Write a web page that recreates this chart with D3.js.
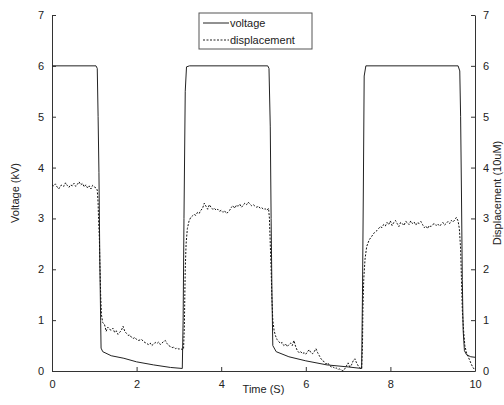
<!DOCTYPE html>
<html>
<head>
<meta charset="utf-8">
<script src="https://cdn.jsdelivr.net/npm/d3@7"></script>
<style>
  body { margin: 0; background: #fff; }
  svg text { font-family: "Liberation Sans", Arial, sans-serif; fill: #222; }
</style>
</head>
<body>
<div id="chart"></div>
<script>
// voltage (kV) vs time (s)
const voltage = [
  [0, 6], [1.04, 6], [1.07, 5.95], [1.09, 5.0], [1.11, 3.9], [1.13, 2.2], [1.15, 1.0], [1.16, 0.45],
  [1.2, 0.38], [1.4, 0.3], [1.7, 0.25], [2.0, 0.18], [2.4, 0.12], [2.8, 0.07], [3.08, 0.05],
  [3.1, 1.0], [3.12, 3.0], [3.15, 5.5], [3.18, 5.98], [3.25, 6], [5.1, 6], [5.13, 5.95],
  [5.16, 4.8], [5.18, 3.0], [5.2, 1.5], [5.22, 0.5], [5.3, 0.38], [5.6, 0.28], [6.0, 0.2],
  [6.5, 0.12], [7.0, 0.08], [7.32, 0.05], [7.34, 1.5], [7.36, 3.5], [7.38, 5.8], [7.42, 6],
  [9.6, 6], [9.64, 5.9], [9.66, 5.0], [9.68, 3.5], [9.7, 1.8], [9.72, 0.8], [9.75, 0.4],
  [9.8, 0.32], [9.9, 0.28], [10, 0.27]
];

// displacement (10uM) vs time (s)
const displacement = [
  [0, 3.66], [0.04, 3.64], [0.08, 3.68], [0.12, 3.62], [0.16, 3.58], [0.2, 3.64], [0.24, 3.66],
  [0.28, 3.63], [0.32, 3.70], [0.36, 3.65], [0.4, 3.61], [0.44, 3.66], [0.48, 3.64], [0.52, 3.69],
  [0.56, 3.63], [0.6, 3.67], [0.64, 3.72], [0.68, 3.66], [0.72, 3.69], [0.76, 3.62], [0.8, 3.66],
  [0.84, 3.60], [0.88, 3.64], [0.92, 3.58], [0.96, 3.65], [1.0, 3.62], [1.04, 3.60], [1.07, 3.56],
  [1.09, 3.3], [1.1, 3.0], [1.12, 2.6], [1.13, 2.2], [1.15, 1.5], [1.17, 1.1], [1.2, 0.95], [1.24, 0.92],
  [1.28, 0.78], [1.32, 0.86], [1.36, 0.82], [1.4, 0.80], [1.44, 0.84], [1.48, 0.76], [1.52, 0.79],
  [1.56, 0.72], [1.6, 0.76], [1.64, 0.80], [1.68, 0.88], [1.72, 0.78], [1.76, 0.74], [1.8, 0.70],
  [1.84, 0.71], [1.88, 0.66], [1.92, 0.64], [1.96, 0.66], [2.0, 0.62], [2.04, 0.60], [2.08, 0.61],
  [2.12, 0.62], [2.16, 0.58], [2.2, 0.56], [2.24, 0.54], [2.28, 0.52], [2.32, 0.55], [2.36, 0.50],
  [2.4, 0.53], [2.44, 0.56], [2.48, 0.54], [2.52, 0.57], [2.56, 0.52], [2.6, 0.55], [2.64, 0.58],
  [2.68, 0.60], [2.72, 0.54], [2.76, 0.50], [2.8, 0.48], [2.84, 0.46], [2.88, 0.47], [2.92, 0.44],
  [2.96, 0.45], [3.0, 0.43], [3.04, 0.44], [3.08, 0.42], [3.11, 0.43],
  [3.13, 0.9], [3.14, 1.5], [3.15, 2.0], [3.17, 2.5], [3.2, 2.8], [3.24, 2.95], [3.28, 3.02],
  [3.32, 3.05], [3.36, 3.08], [3.4, 3.06], [3.44, 3.12], [3.48, 3.10], [3.52, 3.16], [3.56, 3.20],
  [3.6, 3.30], [3.64, 3.24], [3.68, 3.18], [3.72, 3.27], [3.76, 3.22], [3.8, 3.18], [3.84, 3.20],
  [3.88, 3.16], [3.92, 3.18], [3.96, 3.14], [4.0, 3.16], [4.04, 3.12], [4.08, 3.15], [4.12, 3.10],
  [4.16, 3.12], [4.2, 3.16], [4.24, 3.22], [4.28, 3.25], [4.32, 3.20], [4.36, 3.26], [4.4, 3.24],
  [4.44, 3.28], [4.48, 3.22], [4.52, 3.26], [4.56, 3.30], [4.6, 3.27], [4.64, 3.32], [4.68, 3.28],
  [4.72, 3.25], [4.76, 3.27], [4.8, 3.24], [4.84, 3.22], [4.88, 3.24], [4.92, 3.20], [4.96, 3.21],
  [5.0, 3.18], [5.04, 3.19], [5.08, 3.16], [5.12, 3.20],
  [5.14, 3.0], [5.16, 2.5], [5.18, 2.0], [5.2, 1.4], [5.22, 1.0], [5.25, 0.8], [5.28, 0.7],
  [5.32, 0.62], [5.36, 0.58], [5.4, 0.54], [5.44, 0.56], [5.48, 0.50], [5.52, 0.53], [5.56, 0.48],
  [5.6, 0.52], [5.64, 0.55], [5.68, 0.50], [5.72, 0.60], [5.76, 0.48], [5.8, 0.40], [5.84, 0.36],
  [5.88, 0.38], [5.92, 0.34], [5.96, 0.36], [6.0, 0.33], [6.04, 0.38], [6.08, 0.42], [6.12, 0.36],
  [6.16, 0.34], [6.2, 0.38], [6.24, 0.44], [6.28, 0.36], [6.32, 0.30], [6.36, 0.24], [6.4, 0.20],
  [6.44, 0.18], [6.48, 0.14], [6.52, 0.16], [6.56, 0.11], [6.6, 0.08], [6.64, 0.09], [6.68, 0.05],
  [6.72, 0.06], [6.76, 0.03], [6.8, 0.04], [6.84, 0.02], [6.88, 0.0], [6.92, 0.04], [6.96, 0.10],
  [7.0, 0.16], [7.04, 0.08], [7.08, 0.12], [7.12, 0.20], [7.16, 0.24], [7.2, 0.16], [7.24, 0.10],
  [7.28, 0.06], [7.32, 0.04],
  [7.34, 0.5], [7.35, 1.2], [7.37, 1.8], [7.4, 2.2], [7.44, 2.45],
  [7.5, 2.58], [7.56, 2.65], [7.62, 2.72], [7.68, 2.76], [7.72, 2.80], [7.76, 2.84], [7.8, 2.82],
  [7.84, 2.88], [7.88, 2.85], [7.92, 2.92], [7.96, 2.88], [8.0, 2.95], [8.04, 2.86], [8.08, 2.92],
  [8.12, 2.96], [8.16, 2.90], [8.2, 2.84], [8.24, 2.92], [8.28, 2.90], [8.32, 2.86], [8.36, 2.94],
  [8.4, 2.92], [8.44, 2.88], [8.48, 2.95], [8.52, 2.90], [8.56, 2.93], [8.6, 2.87], [8.64, 2.92],
  [8.68, 2.90], [8.72, 2.94], [8.76, 2.88], [8.8, 2.82], [8.84, 2.85], [8.88, 2.80], [8.92, 2.86],
  [8.96, 2.84], [9.0, 2.88], [9.04, 2.90], [9.08, 2.86], [9.12, 2.89], [9.16, 2.85], [9.2, 2.88],
  [9.24, 2.92], [9.28, 2.87], [9.32, 2.90], [9.36, 2.94], [9.4, 2.90], [9.44, 2.96], [9.48, 2.93],
  [9.52, 2.97], [9.56, 3.02], [9.6, 2.95],
  [9.63, 2.8], [9.66, 2.4], [9.68, 1.8], [9.7, 1.2], [9.73, 0.8], [9.76, 0.5], [9.8, 0.35],
  [9.84, 0.28], [9.88, 0.2], [9.92, 0.12], [9.96, 0.06], [10.0, 0.02]
];

const xTicks = [0, 2, 4, 6, 8, 10];
const yTicks = [0, 1, 2, 3, 4, 5, 6, 7];
const legendNames = ["voltage", "displacement"];

const width = 504, height = 405;
const margin = { top: 15, right: 29, bottom: 34, left: 52 };

const svg = d3.select("#chart").append("svg")
  .attr("width", width)
  .attr("height", height);

const x = d3.scaleLinear().domain([0, 10]).range([margin.left, width - margin.right]);
const yL = d3.scaleLinear().domain([0, 7]).range([height - margin.bottom, margin.top]);
const yR = d3.scaleLinear().domain([0, 7]).range([height - margin.bottom, margin.top]);

const axisColor = "#333";
const fmt = d3.format("d");

// ticks point inward on every axis
const gx = svg.append("g")
  .attr("transform", `translate(0,${height - margin.bottom})`)
  .call(d3.axisBottom(x).tickValues(xTicks).tickFormat(fmt).tickSize(-4).tickPadding(9).tickSizeOuter(0));

const gl = svg.append("g")
  .attr("transform", `translate(${margin.left},0)`)
  .call(d3.axisLeft(yL).tickValues(yTicks).tickFormat(fmt).tickSize(-4).tickPadding(8).tickSizeOuter(0));

const gr = svg.append("g")
  .attr("transform", `translate(${width - margin.right},0)`)
  .call(d3.axisRight(yR).tickValues(yTicks).tickFormat(fmt).tickSize(-4).tickPadding(8).tickSizeOuter(0));

[gx, gl, gr].forEach(g => {
  g.selectAll("path, line").attr("stroke", axisColor);
  g.selectAll("text").attr("font-size", 11).attr("fill", "#222");
});

// lines
const line = (ys) => d3.line().x(d => x(d[0])).y(d => ys(d[1]));

svg.append("path")
  .datum(voltage)
  .attr("d", line(yL))
  .attr("fill", "none")
  .attr("stroke", "#222")
  .attr("stroke-width", 1);

svg.append("path")
  .datum(displacement)
  .attr("d", line(yR))
  .attr("fill", "none")
  .attr("stroke", "#111")
  .attr("stroke-width", 1)
  .attr("stroke-dasharray", "2,1.5");

// axis titles
svg.append("text")
  .attr("x", (margin.left + width - margin.right) / 2)
  .attr("y", 393)
  .attr("text-anchor", "middle")
  .attr("font-size", 11)
  .text("Time (S)");

svg.append("text")
  .attr("transform", `translate(19,${(yL(0) + yL(7)) / 2}) rotate(-90)`)
  .attr("text-anchor", "middle")
  .attr("font-size", 11)
  .text("Voltage (kV)");

svg.append("text")
  .attr("transform", `translate(501,${(yR(0) + yR(7)) / 2}) rotate(-90)`)
  .attr("text-anchor", "middle")
  .attr("font-size", 11)
  .text("Displacement (10uM)");

// legend
const legend = svg.append("g").attr("transform", "translate(199,13)");
legend.append("rect")
  .attr("width", 113).attr("height", 36)
  .attr("fill", "#fff").attr("stroke", "#555");

legend.selectAll(".item")
  .data(legendNames)
  .enter().append("g")
  .attr("class", "item")
  .attr("transform", (d, i) => `translate(0,${10 + i * 17})`)
  .each(function (d, i) {
    const g = d3.select(this);
    g.append("line")
      .attr("x1", 4).attr("x2", 30)
      .attr("stroke", "#222")
      .attr("stroke-dasharray", i === 1 ? "2,1.5" : null);
    g.append("text")
      .attr("x", 31).attr("dy", "0.35em")
      .attr("font-size", 11)
      .text(d);
  });
</script>
</body>
</html>
